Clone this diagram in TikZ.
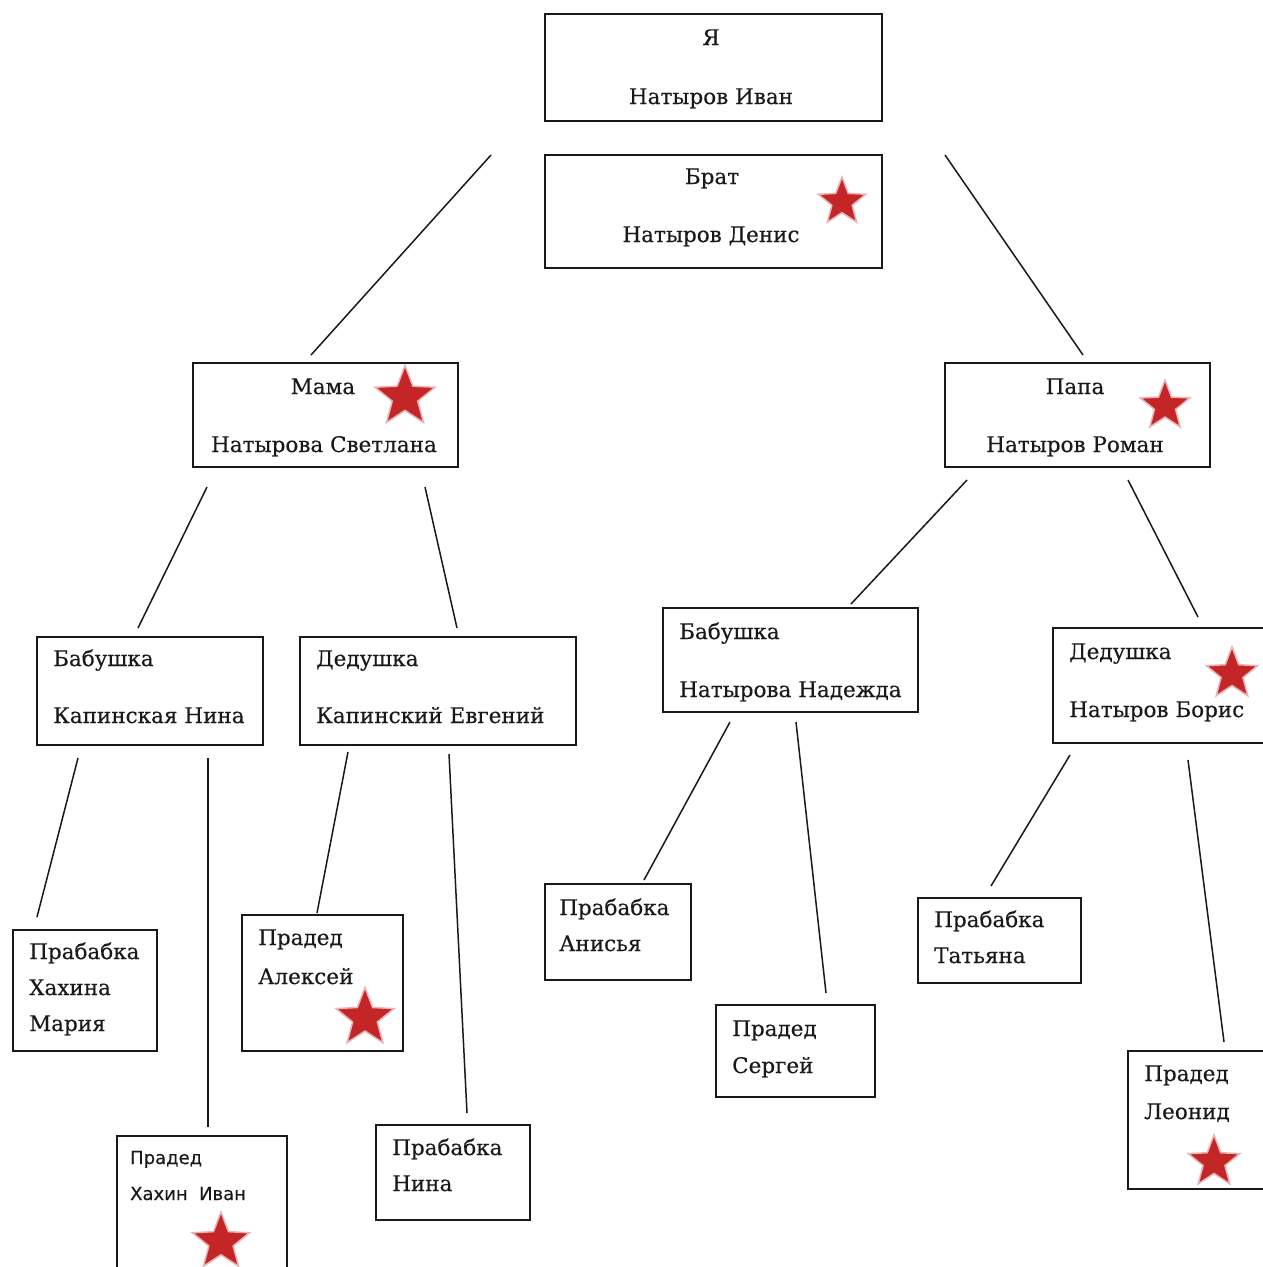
\documentclass[tikz,border=0pt]{standalone}
\usepackage{fontspec}
\setmainfont{DejaVu Serif}[FakeBold=0.35]
\newfontfamily\smallsans{DejaVu Sans}[FakeBold=0.3]
\usetikzlibrary{shapes.geometric}
\definecolor{starred}{RGB}{196,38,40}
\definecolor{ink}{RGB}{25,25,25}
\tikzset{
 box/.style={draw=ink, line width=1.8pt, rectangle, inner sep=0pt},
 lbl/.style={anchor=base west, inner sep=0pt, font=\fontsize{21.5}{25}\selectfont, text=ink},
 clbl/.style={anchor=base, inner sep=0pt, font=\fontsize{21.5}{25}\selectfont, text=ink},
 slbl/.style={anchor=base west, inner sep=0pt, font=\smallsans\fontsize{18}{21}\selectfont, text=ink},
 link/.style={draw=ink, line width=1.5pt},
 redstar/.style={star, star points=5, star point ratio=2.35, fill=starred, draw=starred!35, line width=1.5pt, inner sep=0pt},
}
\begin{document}
\begin{tikzpicture}[x=1pt,y=-1pt]
\useasboundingbox[fill=white] (0,0) rectangle (1262,1267);
% boxes
\node[box, minimum width=337, minimum height=107] (me) at (713.5,67.5) {};
\node[box, minimum width=337, minimum height=113] (brat) at (713.5,211.5) {};
\node[box, minimum width=265, minimum height=104] (mama) at (325.5,415) {};
\node[box, minimum width=265, minimum height=104] (papa) at (1077.5,415) {};
\node[box, minimum width=226, minimum height=108] (babN) at (150,691) {};
\node[box, minimum width=276, minimum height=108] (dedE) at (438,691) {};
\node[box, minimum width=255, minimum height=104] (babNad) at (790.5,660) {};
\node[box, minimum width=213, minimum height=115] (dedB) at (1159.5,685.5) {};
\node[box, minimum width=144, minimum height=121] (prMaria) at (85,990.5) {};
\node[box, minimum width=161, minimum height=136] (prAlex) at (322.5,983) {};
\node[box, minimum width=170, minimum height=136] (prIvan) at (202,1204) {};
\node[box, minimum width=154, minimum height=95] (prNina) at (453,1172.5) {};
\node[box, minimum width=146, minimum height=96] (prAnis) at (618,932) {};
\node[box, minimum width=159, minimum height=92] (prSerg) at (795.5,1051) {};
\node[box, minimum width=163, minimum height=85] (prTat) at (999.5,940.5) {};
\node[box, minimum width=138, minimum height=138] (prLeon) at (1197,1120) {};
% labels
\node[clbl] (tMe1) at (711,45) {Я};
\node[clbl] (tMe2) at (711,104) {Натыров Иван};
\node[clbl] (tBr1) at (712,184) {Брат};
\node[clbl] (tBr2) at (711,242) {Натыров Денис};
\node[clbl] (tMa1) at (323,394) {Мама};
\node[clbl] (tMa2) at (324,452) {Натырова Светлана};
\node[clbl] (tPa1) at (1075,394) {Папа};
\node[clbl] (tPa2) at (1075,452) {Натыров Роман};
\node[lbl] (tBN1) at (53,666) {Бабушка};
\node[lbl] (tBN2) at (53,723) {Капинская Нина};
\node[lbl] (tDE1) at (316,666) {Дедушка};
\node[lbl] (tDE2) at (316,723) {Капинский Евгений};
\node[lbl] (tBH1) at (679,639) {Бабушка};
\node[lbl] (tBH2) at (679,697) {Натырова Надежда};
\node[lbl] (tDB1) at (1069,659) {Дедушка};
\node[lbl] (tDB2) at (1069,717) {Натыров Борис};
\node[lbl] (tPM1) at (29,959) {Прабабка};
\node[lbl] (tPM2) at (29,995) {Хахина};
\node[lbl] (tPM3) at (29,1031) {Мария};
\node[lbl] (tPA1) at (258,945) {Прадед};
\node[lbl] (tPA2) at (258,984) {Алексей};
\node[slbl] (tPI1) at (130,1164) {Прадед};
\node[slbl] (tPI2) at (130,1200) {Хахин~ Иван};
\node[lbl] (tPN1) at (392,1155) {Прабабка};
\node[lbl] (tPN2) at (392,1191) {Нина};
\node[lbl] (tPAn1) at (559,915) {Прабабка};
\node[lbl] (tPAn2) at (559,951) {Анисья};
\node[lbl] (tPS1) at (732,1036) {Прадед};
\node[lbl] (tPS2) at (732,1073) {Сергей};
\node[lbl] (tPT1) at (934,927) {Прабабка};
\node[lbl] (tPT2) at (934,963) {Татьяна};
\node[lbl] (tPL1) at (1144,1081) {Прадед};
\node[lbl] (tPL2) at (1144,1119) {Леонид};
% stars
\node[redstar, minimum size=50] (sBr) at (842,202) {};
\node[redstar, minimum size=63] (sMa) at (405,397) {};
\node[redstar, minimum size=52] (sPa) at (1165,406) {};
\node[redstar, minimum size=54] (sDB) at (1232,674) {};
\node[redstar, minimum size=61] (sPA) at (365,1018) {};
\node[redstar, minimum size=60] (sPI) at (221,1242) {};
\node[redstar, minimum size=54] (sPL) at (1214,1162) {};
% connector end points
\coordinate (a1) at (491,155); \coordinate (a2) at (311,355);
\coordinate (b1) at (945,155); \coordinate (b2) at (1083,355);
\coordinate (c1) at (207,487); \coordinate (c2) at (138,628);
\coordinate (d1) at (425,487); \coordinate (d2) at (457,628);
\coordinate (e1) at (967,480); \coordinate (e2) at (851,604);
\coordinate (f1) at (1128,480); \coordinate (f2) at (1198,617);
\coordinate (g1) at (78,758); \coordinate (g2) at (37,917);
\coordinate (h1) at (208,758); \coordinate (h2) at (208,1127);
\coordinate (i1) at (348,752); \coordinate (i2) at (317,913);
\coordinate (j1) at (449,754); \coordinate (j2) at (467,1113);
\coordinate (k1) at (730,722); \coordinate (k2) at (644,880);
\coordinate (l1) at (796,722); \coordinate (l2) at (826,993);
\coordinate (m1) at (1070,755); \coordinate (m2) at (991,886);
\coordinate (n1) at (1188,760); \coordinate (n2) at (1224,1042);
\foreach \p in {a,b,c,d,e,f,g,h,i,j,k,l,m,n} \draw[link] (\p1) -- (\p2);
\end{tikzpicture}
\end{document}
